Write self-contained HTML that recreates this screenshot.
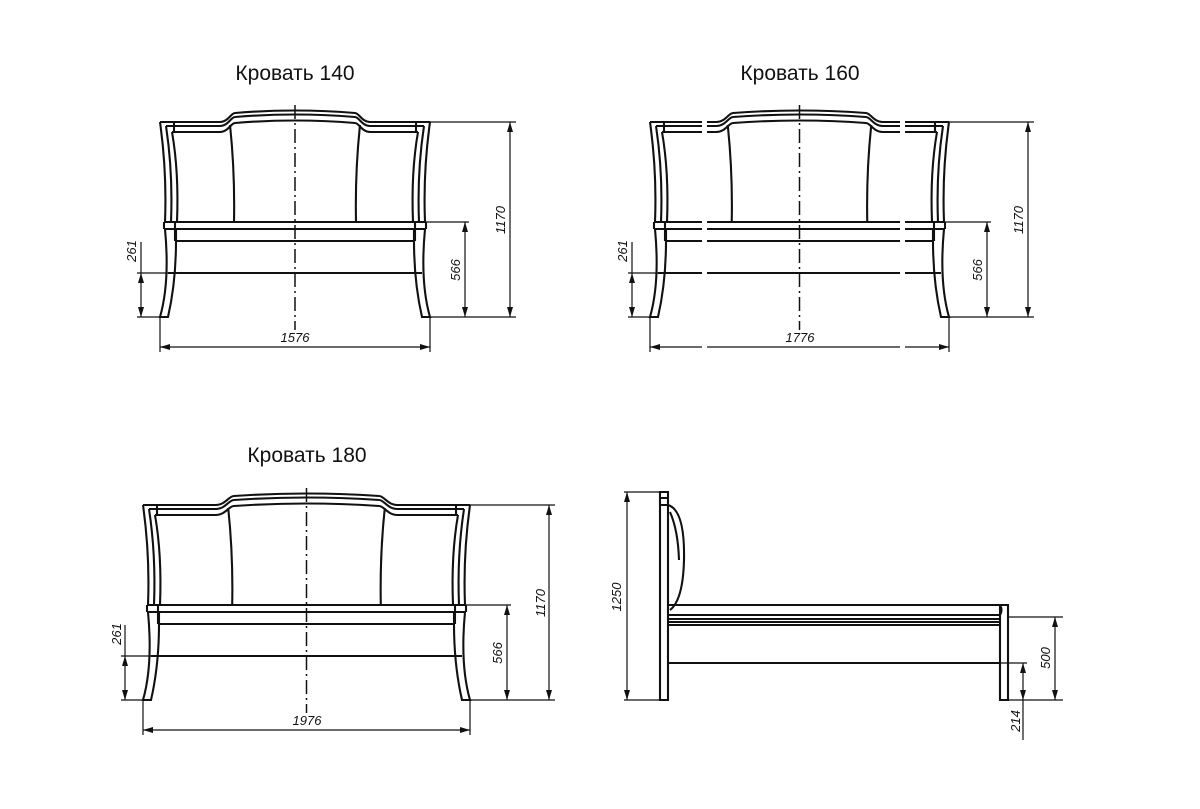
<!DOCTYPE html>
<html><head><meta charset="utf-8"><style>
body{margin:0;background:#fff;width:1200px;height:809px;overflow:hidden}
svg{display:block}
text{font-family:"Liberation Sans",sans-serif;fill:#111}
.t{font-size:21px}
.d{font-size:13px;font-style:italic}
</style></head><body>
<svg id="s" width="1200" height="809" viewBox="0 0 1200 809" xmlns="http://www.w3.org/2000/svg">
<defs>
<marker id="a" viewBox="0 0 10 6" refX="10" refY="3" markerWidth="10" markerHeight="6" orient="auto-start-reverse" markerUnits="userSpaceOnUse"><path d="M0,0 L10,3 L0,6 z" fill="#111"/></marker>
</defs>
<g id="g" fill="none" stroke="#111" stroke-width="2.1"></g>
<g id="dim" fill="none" stroke="#111" stroke-width="1.2"></g>
<text class="t" x="295" y="80" text-anchor="middle">Кровать 140</text>
<text class="t" x="800" y="80" text-anchor="middle">Кровать 160</text>
<text class="t" x="307" y="462" text-anchor="middle">Кровать 180</text>
<text class="d" x="295" y="342" text-anchor="middle">1576</text>
<text class="d" x="800" y="342" text-anchor="middle">1776</text>
<text class="d" x="307" y="725" text-anchor="middle">1976</text>
<text class="d" transform="translate(505,220) rotate(-90)" text-anchor="middle">1170</text>
<text class="d" transform="translate(460,270) rotate(-90)" text-anchor="middle">566</text>
<text class="d" transform="translate(136,251) rotate(-90)" text-anchor="middle">261</text>
<text class="d" transform="translate(1023,220) rotate(-90)" text-anchor="middle">1170</text>
<text class="d" transform="translate(982,270) rotate(-90)" text-anchor="middle">566</text>
<text class="d" transform="translate(627,251) rotate(-90)" text-anchor="middle">261</text>
<text class="d" transform="translate(545,603) rotate(-90)" text-anchor="middle">1170</text>
<text class="d" transform="translate(502,653) rotate(-90)" text-anchor="middle">566</text>
<text class="d" transform="translate(121,634) rotate(-90)" text-anchor="middle">261</text>
<text class="d" transform="translate(621,597) rotate(-90)" text-anchor="middle">1250</text>
<text class="d" transform="translate(1050,658) rotate(-90)" text-anchor="middle">500</text>
<text class="d" transform="translate(1020,721) rotate(-90)" text-anchor="middle">214</text>
</svg>
<script>
var g=document.getElementById('g'),dm=document.getElementById('dim'),h='',d='';
function P(s){h+='<path d="'+s+'"/>';}
function L(x1,y1,x2,y2){d+='<line x1="'+x1+'" y1="'+y1+'" x2="'+x2+'" y2="'+y2+'"/>';}
function A(x1,y1,x2,y2){d+='<line x1="'+x1+'" y1="'+y1+'" x2="'+x2+'" y2="'+y2+'" marker-start="url(#a)" marker-end="url(#a)"/>';}
function bed(Lx,R,T,dv,d5,d2){
 var F=T+195,C=(Lx+R)/2,s=(R-Lx)/270,a=75*s,b=60*s,p=63*s;
 for(var k=0;k<3;k++){var o=[0,4,10][k],ix=[0,6,12][k];
  P('M'+(Lx+ix)+','+(T+o)+' L'+(C-a)+','+(T+o)+' C'+(C-a+8*s)+','+(T+o)+' '+(C-b-4*s)+','+(T-9+o)+' '+(C-b)+','+(T-9+o)+' Q'+C+','+(T-14+o)+' '+(C+b)+','+(T-9+o)+' C'+(C+b+4*s)+','+(T-9+o)+' '+(C+a-8*s)+','+(T+o)+' '+(C+a)+','+(T+o)+' L'+(R-ix)+','+(T+o));
  P('M'+(Lx+ix)+','+(T+o)+' Q'+(Lx+ix+7)+','+(T+50)+' '+(Lx+ix+5)+','+(T+100));
  P('M'+(R-ix)+','+(T+o)+' Q'+(R-ix-7)+','+(T+50)+' '+(R-ix-5)+','+(T+100));
 }
 P('M'+(Lx+14)+','+T+' L'+(Lx+14)+','+(T+10));P('M'+(R-14)+','+T+' L'+(R-14)+','+(T+10));
 P('M'+(C-p-2)+','+(T+3)+' Q'+(C-p+3)+','+(T+50)+' '+(C-p+2)+','+(T+100));
 P('M'+(C+p+2)+','+(T+3)+' Q'+(C+p-3)+','+(T+50)+' '+(C+p-2)+','+(T+100));
 P('M'+(Lx+4)+','+(T+100)+' L'+(R-4)+','+(T+100));
 P('M'+(Lx+6)+','+(T+107)+' L'+(R-6)+','+(T+107));
 P('M'+(Lx+16)+','+(T+119)+' L'+(R-16)+','+(T+119));
 P('M'+(Lx+8)+','+(T+151)+' L'+(R-8)+','+(T+151));
 P('M'+(Lx+4)+','+(T+100)+' L'+(Lx+4)+','+(T+107));P('M'+(R-4)+','+(T+100)+' L'+(R-4)+','+(T+107));
 P('M'+(Lx+15)+','+(T+100)+' L'+(Lx+15)+','+(T+119));P('M'+(R-15)+','+(T+100)+' L'+(R-15)+','+(T+119));
 P('M'+(Lx+5)+','+(T+107)+' Q'+(Lx+10)+','+(T+160)+' '+Lx+','+F+' L'+(Lx+8)+','+F+' Q'+(Lx+16)+','+(T+160)+' '+(Lx+16)+','+(T+119)+' L'+(Lx+16)+','+(T+107)+' Z');
 P('M'+(R-5)+','+(T+107)+' Q'+(R-10)+','+(T+160)+' '+R+','+F+' L'+(R-8)+','+F+' Q'+(R-16)+','+(T+160)+' '+(R-16)+','+(T+119)+' L'+(R-16)+','+(T+107)+' Z');
 d+='<line x1="'+C+'" y1="'+(T-17)+'" x2="'+C+'" y2="'+(F+13)+'" stroke-width="1.5" stroke-dasharray="14,4,2,4"/>';
 L(R,T,dv+6,T);A(dv,T,dv,F);L(R,F,dv+6,F);
 L(R-10,T+100,d5+4,T+100);A(d5,T+100,d5,F);
 L(d2-4,T+151,Lx+16,T+151);L(d2-4,F,Lx,F);A(d2,T+151,d2,F);L(d2,T+120,d2,T+151);
 L(Lx,F,Lx,F+35);L(R,F,R,F+35);A(Lx,F+30,R,F+30);
}
bed(160,430,122,510,465,141);
bed(650,949,122,1028,987,632);
bed(143,470,505,549,507,125);
P('M660,492 L668,492 L668,700 L660,700 Z');P('M660,498 L668,498 M660,505 L668,505');
P('M668,505 Q685,510 684,560 Q683,600 670,610');P('M670,512 Q678,530 679,560');
P('M668,605 L1000,605 Q1003,610 1000,615 L668,615');P('M668,619 L1000,619 M668,622 L1000,622 M668,625 L1000,625');
P('M668,663 L1000,663');
P('M1000,605 L1008,605 L1008,700 L1000,700 Z');
L(624,492,660,492);L(624,700,660,700);A(627,492,627,700);
L(1008,617,1063,617);L(1008,700,1063,700);A(1055,617,1055,700);
L(1000,663,1027,663);A(1023,663,1023,700);L(1023,700,1023,740);
g.innerHTML=h;dm.innerHTML=d;
var r='';[702,900].forEach(function(x){r+='<rect x="'+x+'" y="118" width="5" height="240" fill="#fff"/>';});
document.getElementById('s').insertAdjacentHTML('beforeend',r);
</script>
</body></html>
